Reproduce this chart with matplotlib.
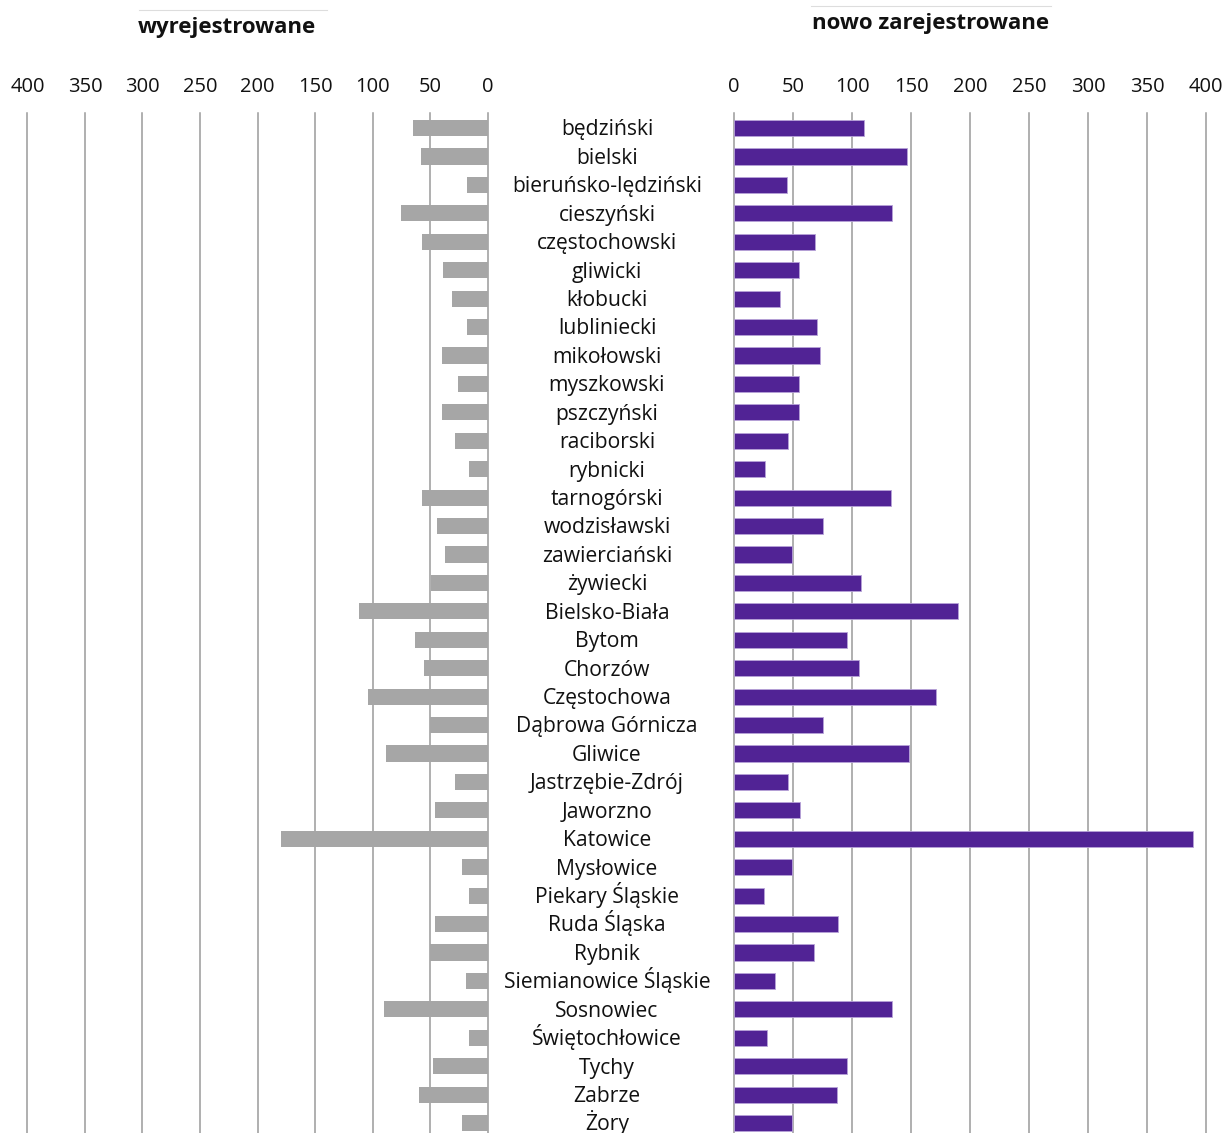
import matplotlib
matplotlib.use("Agg")
import matplotlib.pyplot as plt
import matplotlib.transforms as mtransforms

plt.rcParams['font.family'] = ['Open Sans', 'DejaVu Sans']

categories = [
    "będziński", "bielski", "bieruńsko-lędziński", "cieszyński", "częstochowski",
    "gliwicki", "kłobucki", "lubliniecki", "mikołowski", "myszkowski",
    "pszczyński", "raciborski", "rybnicki", "tarnogórski", "wodzisławski",
    "zawierciański", "żywiecki", "Bielsko-Biała", "Bytom", "Chorzów",
    "Częstochowa", "Dąbrowa Górnicza", "Gliwice", "Jastrzębie-Zdrój", "Jaworzno",
    "Katowice", "Mysłowice", "Piekary Śląskie", "Ruda Śląska", "Rybnik",
    "Siemianowice Śląskie", "Sosnowiec", "Świętochłowice", "Tychy", "Zabrze",
    "Żory",
]
wyrejestrowane = [
    65, 58, 18, 75, 57, 39, 31, 18, 40, 26,
    40, 28, 16, 57, 44, 37, 49, 112, 63, 55,
    104, 50, 88, 28, 46, 180, 22, 16, 46, 50,
    19, 90, 16, 47, 60, 22,
]
nowo_zarejestrowane = [
    110, 147, 45, 134, 69, 55, 39, 70, 73, 55,
    55, 46, 26, 133, 75, 49, 108, 190, 96, 106,
    171, 75, 148, 46, 56, 389, 49, 25, 88, 68,
    35, 134, 28, 96, 87, 49,
]
ticks = [0, 50, 100, 150, 200, 250, 300, 350, 400]
title_left = "wyrejestrowane"
title_right = "nowo zarejestrowane"

W, H = 1226, 1133
fig = plt.figure(figsize=(W / 100, H / 100), dpi=100)

top_px = 113
ax_h = (H - top_px) / H
axL = fig.add_axes([27.5 / W, 0, 460 / W, ax_h])
axR = fig.add_axes([734 / W, 0, 472 / W, ax_h])

grey = "#a6a6a6"
purple = "#512395"
gridc = "#9a9a9a"

n = len(categories)
ypos = list(range(n))

for ax in (axL, axR):
    ax.set_xlim(0, 400)
    ax.set_ylim(n - 1 + 0.35, -0.53)
    for s in ax.spines.values():
        s.set_visible(False)
    ax.set_yticks([])
    ax.set_xticks(ticks)
    ax.xaxis.tick_top()
    ax.tick_params(axis='x', length=0, pad=11.5, labelsize=14.5, labelcolor="#111111")
    for t in ticks:
        ax.axvline(t, color=gridc, lw=1.1, zorder=0, clip_on=False)
axL.invert_xaxis()

axL.barh(ypos, wyrejestrowane, height=0.57, color=grey, zorder=2)
axR.barh(ypos, nowo_zarejestrowane, height=0.57, color=purple,
         edgecolor="#b7a2d8", linewidth=0.6, zorder=2)

trans = mtransforms.blended_transform_factory(fig.transFigure, axL.transData)
for i, c in enumerate(categories):
    fig.text(607 / W, i + 0.26, c, transform=trans, ha='center', va='baseline',
             fontsize=15.2, color="#111111")

fig.text(227 / W, 1 - 27 / H, title_left, ha='center', va='center',
         fontsize=16, fontweight='bold', color="#111111")
fig.text(931 / W, 1 - 23 / H, title_right, ha='center', va='center',
         fontsize=16, fontweight='bold', color="#111111")
fig.add_artist(plt.Line2D([139 / W, 327 / W], [1 - 10 / H, 1 - 10 / H],
                          transform=fig.transFigure, color="#dddddd", lw=0.8))
fig.add_artist(plt.Line2D([811 / W, 1051 / W], [1 - 6 / H, 1 - 6 / H],
                          transform=fig.transFigure, color="#dddddd", lw=0.8))

fig.savefig("out.png", dpi=100, facecolor="white")
